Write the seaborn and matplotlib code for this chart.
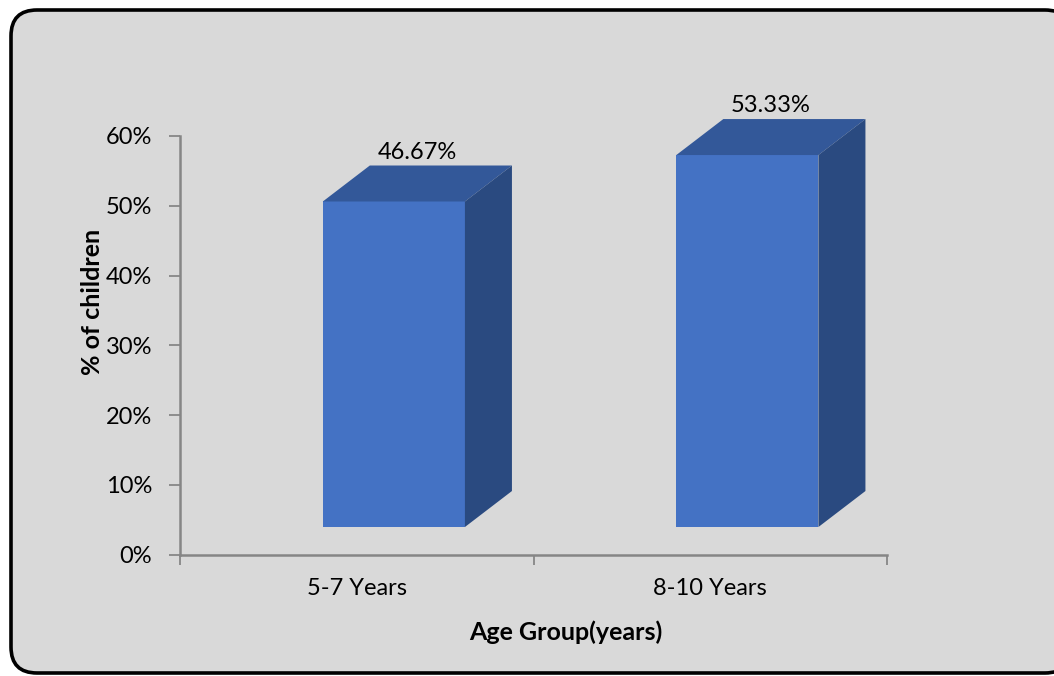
import matplotlib
matplotlib.use("Agg")
import matplotlib.pyplot as plt
from matplotlib.patches import FancyBboxPatch, Polygon
from matplotlib.transforms import IdentityTransform
import seaborn as sns
import pandas as pd

# ---- data ----
categories = ["5-7 Years", "8-10 Years"]
values = [46.67, 53.33]
value_labels = ["46.67%", "53.33%"]
ytick_values = [0, 10, 20, 30, 40, 50, 60]
ytick_labels = ["0%", "10%", "20%", "30%", "40%", "50%", "60%"]
x_label = "Age Group(years)"
y_label = "% of children"

# ---- style ----
FRONT = "#4472C4"
TOP = "#335899"
SIDE = "#2A4A80"
AXIS = "#868686"
BG = "#D9D9D9"

sns.set_theme(style="white")
plt.rcParams["font.family"] = ["Lato", "DejaVu Sans"]

W, H = 1054, 676
fig = plt.figure(figsize=(W / 100, H / 100), dpi=100)
fig.patch.set_facecolor("white")

# rounded chart-area border (pixel coords)
border = FancyBboxPatch((11, 3), 1060, 663,
                        boxstyle="round,pad=0,rounding_size=26",
                        transform=IdentityTransform(), facecolor=BG,
                        edgecolor="black", linewidth=2.6, zorder=-5)
fig.patches.append(border)

ax_left, ax_right = 180, 887
ax_bottom, ax_top = 554.5, 136
ax = fig.add_axes([ax_left / W, (H - ax_bottom) / H,
                   (ax_right - ax_left) / W, (ax_bottom - ax_top) / H])
ax.set_zorder(2)
ax.set_facecolor("none")
ax.patch.set_alpha(0)

df = pd.DataFrame({"group": categories, "pct": values})
sns.barplot(data=df, x="group", y="pct", color=FRONT, saturation=1,
            width=0.402, linewidth=0, ax=ax, zorder=3)

ax.set_xlim(-0.5, 1.5)
ax.set_ylim(0, 60)

# pseudo-3D geometry (style constants)
floor = 3.94      # front face starts above the axis floor
shift = 0.105     # front face shift to the right
dx, dy = 0.133, 5.16  # depth offset

for patch, lab in zip(list(ax.patches), value_labels):
    patch.set_x(patch.get_x() + shift)
    patch.set_y(patch.get_y() + floor)
    x0 = patch.get_x()
    x1 = x0 + patch.get_width()
    y0 = patch.get_y()
    y1 = y0 + patch.get_height()
    top = Polygon([(x0, y1), (x0 + dx, y1 + dy), (x1 + dx, y1 + dy), (x1, y1)],
                  closed=True, facecolor=TOP, edgecolor="none",
                  clip_on=False, zorder=3)
    side = Polygon([(x1, y0), (x1 + dx, y0 + dy), (x1 + dx, y1 + dy), (x1, y1)],
                   closed=True, facecolor=SIDE, edgecolor="none",
                   clip_on=False, zorder=3)
    ax.add_patch(top)
    ax.add_patch(side)
    ax.text((x0 + x1) / 2 + dx / 2, y1 + dy + 1.0, lab, ha="center",
            va="baseline", fontsize=17, color="black", zorder=5)

ax.set_yticks(ytick_values)
ax.set_yticklabels(ytick_labels)
ax.set_xticks([-0.5, 0.5, 1.5], minor=False)
ax.set_xticklabels(["", "", ""])
ax.set_xticks([0, 1], minor=True)
ax.set_xticklabels(categories, minor=True)

ax.tick_params(axis="y", which="major", direction="out", length=8, width=1.3,
               color=AXIS, labelsize=17, pad=12, labelcolor="black", left=True)
ax.tick_params(axis="x", which="major", direction="out", length=7, width=1.3,
               color=AXIS, bottom=True)
ax.tick_params(axis="x", which="minor", length=0, labelsize=17, pad=17,
               labelcolor="black")

for s in ["top", "right"]:
    ax.spines[s].set_visible(False)
for s in ["left", "bottom"]:
    ax.spines[s].set_color(AXIS)
    ax.spines[s].set_linewidth(1.8)

ax.set_xlabel(x_label, fontsize=18, fontweight="bold", color="black")
ax.set_ylabel(y_label, fontsize=18, fontweight="bold", color="black")
ax.xaxis.set_label_coords((566 - ax_left) / (ax_right - ax_left),
                          (ax_bottom - 632) / (ax_bottom - ax_top))
ax.xaxis.label.set_va("center")
ax.yaxis.set_label_coords((92 - ax_left) / (ax_right - ax_left),
                          (ax_bottom - 301.5) / (ax_bottom - ax_top))
ax.yaxis.label.set_va("center")

fig.savefig("out.png", dpi=100, facecolor="white")
